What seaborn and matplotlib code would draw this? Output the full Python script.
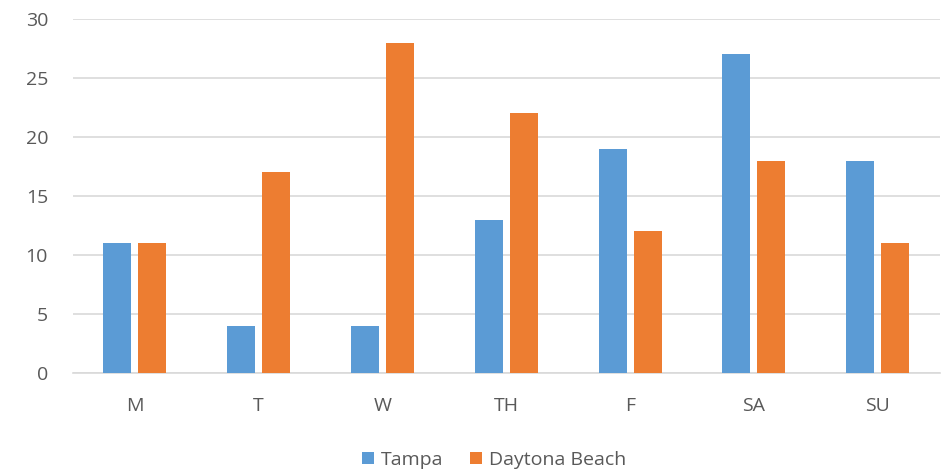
import pandas as pd
import matplotlib.pyplot as plt
import seaborn as sns

days = ["M", "T", "W", "TH", "F", "SA", "SU"]
tampa = [11, 4, 4, 13, 19, 27, 18]
daytona = [11, 17, 28, 22, 12, 18, 11]

df = pd.DataFrame({
    "Day": days * 2,
    "City": ["Tampa"] * len(days) + ["Daytona Beach"] * len(days),
    "Value": tampa + daytona,
})

sns.set_style("white")
plt.rcParams["font.family"] = ["Open Sans", "DejaVu Sans"]

text_color = "#595959"
fig = plt.figure(figsize=(9.52, 4.71), dpi=100)
ax = fig.add_axes([0.0767, 0.208, 0.9103, 0.7517])

sns.barplot(data=df, x="Day", y="Value", hue="City",
            palette=["#5B9BD5", "#ED7D31"], width=0.565, gap=0.2,
            saturation=1, linewidth=0, ax=ax, zorder=3)

ax.set_ylim(0, 30)
ax.set_yticks(range(0, 31, 5))
ax.yaxis.grid(True, color="#D9D9D9", linewidth=1.2, zorder=0)
ax.set_axisbelow(True)
for s in ["top", "right", "left"]:
    ax.spines[s].set_visible(False)
ax.spines["bottom"].set_color("#D9D9D9")
ax.spines["bottom"].set_linewidth(1.2)
ax.tick_params(axis="both", length=0, labelsize=14, colors=text_color)
ax.tick_params(axis="x", pad=17)
ax.tick_params(axis="y", pad=18)
ax.set_xlabel("")
ax.set_ylabel("")

ax.legend(loc="upper center", bbox_to_anchor=(0.486, -0.17), ncol=2,
          frameon=False, fontsize=14, handlelength=0.6, handleheight=0.6,
          handletextpad=0.35, columnspacing=1.4, labelcolor=text_color)

fig.savefig("out.png", dpi=100)
